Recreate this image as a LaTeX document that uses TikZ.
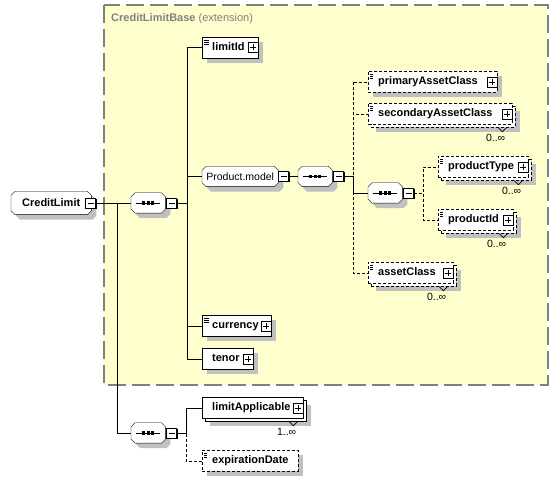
\documentclass[tikz,border=0pt]{standalone}
\usepackage{fontspec}
\setmainfont{Liberation Sans}
\usetikzlibrary{shadows,positioning}
\definecolor{basefill}{RGB}{255,255,206}
\definecolor{baseedge}{RGB}{128,128,128}
\definecolor{shade}{RGB}{192,192,192}
\newcommand{\namefont}{\fontsize{11}{13}\selectfont\bfseries}
\newcommand{\notefont}{\fontsize{10.5}{12}\selectfont}

% rectangle with cut corners and its own shadow, for groups and compositors
\makeatletter
\def\octpath#1#2{%
    \pgfpathmoveto{\pgfpoint{\octxa+4pt#1}{\octya#2}}%
    \pgfpathlineto{\pgfpoint{\octxb-4pt#1}{\octya#2}}%
    \pgfpathlineto{\pgfpoint{\octxb#1}{\octya+4pt#2}}%
    \pgfpathlineto{\pgfpoint{\octxb#1}{\octyb-4pt#2}}%
    \pgfpathlineto{\pgfpoint{\octxb-4pt#1}{\octyb#2}}%
    \pgfpathlineto{\pgfpoint{\octxa+4pt#1}{\octyb#2}}%
    \pgfpathlineto{\pgfpoint{\octxa#1}{\octyb-4pt#2}}%
    \pgfpathlineto{\pgfpoint{\octxa#1}{\octya+4pt#2}}%
    \pgfpathclose}
\def\octcorners{%
    \southwest \edef\octxa{\the\pgf@x}\edef\octya{\the\pgf@y}%
    \northeast \edef\octxb{\the\pgf@x}\edef\octyb{\the\pgf@y}}
\pgfdeclareshape{octo}{
    \inheritsavedanchors[from=rectangle]
    \inheritanchorborder[from=rectangle]
    \inheritanchor[from=rectangle]{center}
    \inheritanchor[from=rectangle]{north}
    \inheritanchor[from=rectangle]{south}
    \inheritanchor[from=rectangle]{east}
    \inheritanchor[from=rectangle]{west}
    \inheritanchor[from=rectangle]{north east}
    \inheritanchor[from=rectangle]{north west}
    \inheritanchor[from=rectangle]{south east}
    \inheritanchor[from=rectangle]{south west}
    \behindbackgroundpath{%
        \octcorners
        \pgfscope
        \color{shade}%
        \pgfsetfillcolor{shade}%
        \octpath{+5pt}{-5pt}%
        \pgfusepath{fill}%
        \endpgfscope
    }
    \backgroundpath{\octcorners\octpath{+0pt}{+0pt}}
}
\makeatother

\tikzset{
    line width=1pt,
    sh/.style={drop shadow={shadow xshift=5pt,shadow yshift=-5pt,fill=shade,opacity=1}},
    elembase/.style={draw, fill=white, anchor=west, inner xsep=10pt, inner ysep=0pt,
        minimum height=21pt, align=left, font=\namefont, text height=8pt, text depth=2pt},
    elem/.style={elembase, text width=#1pt, sh},
    elemm/.style={elembase, text width=#1pt,
        general shadow={shadow xshift=8pt,shadow yshift=-8pt,fill=shade}},
    stack/.style={general shadow={shadow xshift=3pt,shadow yshift=-3pt,fill=white,draw=black,#1}},
    stack/.default={solid},
    opt/.style={dash pattern=on 3pt off 2pt},
    doc/.style={path picture={\foreach \k in {3,5,7}
        \draw[line width=.8pt] ([xshift=2,yshift=-\k]path picture bounding box.north west) -- ++(5,0);}},
    grp/.style={draw, fill=white, octo, inner sep=0pt, minimum height=20pt, anchor=west},
    seq/.style={grp, minimum width=34pt,
        path picture={\draw ([xshift=-12]path picture bounding box.center) -- ([xshift=12]path picture bounding box.center);
            \foreach \d in {-4.5,0,4.5} \fill[black] ([xshift=\d]path picture bounding box.center) +(-1.6,-1.6) rectangle +(1.6,1.6);}},
    pm/.style={draw, fill=white, minimum size=10pt, inner sep=0pt,
        drop shadow={shadow xshift=1pt,shadow yshift=-1pt,fill=black,opacity=1}},
    pbox/.style={pm, path picture={\draw ([xshift=-3]path picture bounding box.center) -- ([xshift=3]path picture bounding box.center)
        ([yshift=-3]path picture bounding box.center) -- ([yshift=3]path picture bounding box.center);}},
    mbox/.style={pm, path picture={\draw ([xshift=-3]path picture bounding box.center) -- ([xshift=3]path picture bounding box.center);}},
    mult/.style={font=\notefont, inner sep=0pt}
}

\begin{document}
\begin{tikzpicture}[x=1pt,y=-1pt]
    \useasboundingbox (0,0) rectangle (558,481);
    \draw[fill=basefill, draw=baseedge, line width=1.2pt, dash pattern=on 18pt off 6pt] (104,5) rectangle (548,385);
    \node[anchor=west, font=\fontsize{11}{13}\selectfont, text=baseedge, inner sep=0pt] (baseTitle) at (111,19) {\textbf{CreditLimitBase} (extension)};

    \node[grp, font=\namefont, minimum width=80pt, minimum height=23pt] (creditLimit) at (11,203) {CreditLimit\hspace{10pt}};
    \node[mbox, right=-6pt of creditLimit] (creditLimitM) {};
    \node[seq] (seqMain) at (131,203) {};
    \node[mbox, right=1pt of seqMain] (seqMainM) {};

    \node[elem=36, doc] (limitId) at (202,47.5) {limitId};
    \node[grp, font=\notefont, minimum width=76pt] (productModel) at (202,176.5) {Product.model};
    \node[mbox, right=0pt of productModel] (productModelM) {};
    \node[elem=49, doc] (currency) at (202,326) {currency};
    \node[elem=31] (tenor) at (202,359) {tenor};

    \node[seq] (seqModel) at (298,176.5) {};
    \node[mbox, right=1pt of seqModel] (seqModelM) {};
    \node[elem=109, doc, opt] (primaryAsset) at (368,82) {primaryAssetClass};
    \node[elemm=124, stack=opt, doc, opt] (secondaryAsset) at (368,114) {secondaryAssetClass};
    \node[seq] (seqProduct) at (368,193) {};
    \node[mbox, right=1pt of seqProduct] (seqProductM) {};
    \node[elemm=65, stack=opt, doc, opt] (assetClass) at (368,273) {assetClass};
    \node[elemm=70, stack=opt, doc, opt] (productType) at (438,167) {productType};
    \node[elemm=55, stack=opt, doc, opt] (productId) at (438,220) {productId};

    \node[seq] (seqApplicable) at (131,433) {};
    \node[mbox, right=1pt of seqApplicable] (seqApplicableM) {};
    \node[elemm=81, stack] (limitApplicable) at (202,408) {limitApplicable};
    \node[elem=76, doc, opt] (expirationDate) at (202,461) {expirationDate};

    \foreach \n in {limitId,currency,tenor,primaryAsset,secondaryAsset,assetClass,productType,productId,limitApplicable}
        \node[pbox, left=0pt of \n.east] (\n-p) {};

    % multiplicity
    \foreach \n/\m in {secondaryAsset/0,assetClass/0,productType/0,productId/0,limitApplicable/1}{
        \node[mult, anchor=north east] (\n-m) at ([xshift=-7pt,yshift=-9pt]\n.south east) {\m..∞};
        \draw[line width=.7pt] ([xshift=-14pt,yshift=-3pt]\n.south east) -- ++(4,4) -- ++(4,-4);
    }

    \draw (creditLimitM.east) -- (seqMain.west);
    \draw (creditLimitM.east) -- ++(21,0) |- (seqApplicable.west);
    \foreach \n in {limitId,productModel,currency,tenor}
        \draw (seqMainM.east) -- ++(10,0) |- (\n.west);
    \draw (productModelM.east) -- (seqModel.west);
    \foreach \n in {primaryAsset,secondaryAsset,assetClass}
        \draw[opt] (seqModelM.east) -- ++(9,0) |- (\n.west);
    \draw (seqModelM.east) -- ++(9,0) |- (seqProduct.west);
    \foreach \n in {productType,productId}
        \draw[opt] (seqProductM.east) -- ++(9,0) |- (\n.west);
    \draw (seqApplicableM.east) -- ++(9,0) |- (limitApplicable.west);
    \draw[opt] (seqApplicableM.east) -- ++(9,0) |- (expirationDate.west);
\end{tikzpicture}
\end{document}
